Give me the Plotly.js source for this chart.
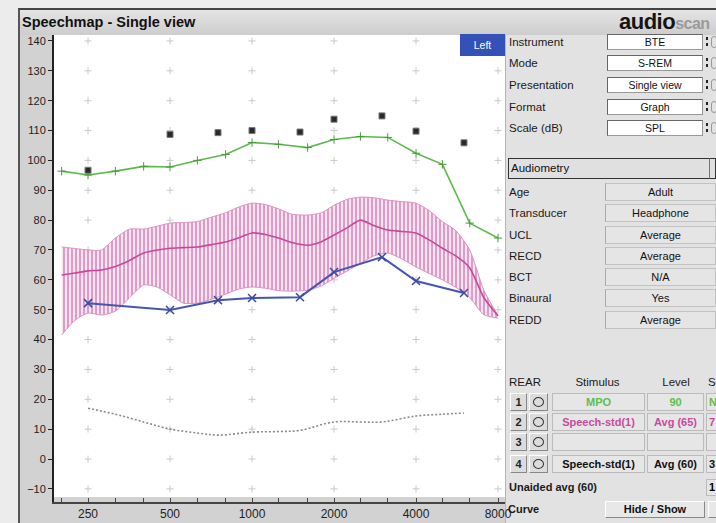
<!DOCTYPE html>
<html><head><meta charset="utf-8">
<script src="https://cdn.plot.ly/plotly-3.0.1.min.js"></script>
<style>
body{margin:0;width:716px;height:523px;overflow:hidden;background:#ececec;position:relative;font-family:'Liberation Sans',Arial,sans-serif;}
.a{position:absolute;box-sizing:border-box;white-space:nowrap;}
#plot{position:absolute;left:0;top:0;width:716px;height:523px;z-index:1;}
.ov{z-index:2;}
</style></head><body>
<div class="a" style="left:18px;top:8px;width:698px;height:515px;background:#d2d2d2;border-top:2px solid #444;border-left:2px solid #555;"></div>
<div class="a" style="left:20px;top:10px;width:696px;height:25px;background:linear-gradient(#e4e4e4,#cdcdcd);"></div>
<div class="a" style="left:505px;top:35px;width:211px;height:488px;background:#e2e2e2;border-left:1px solid #b5b5b5;"></div>
<div id="plot"></div>
<div id="panel"></div>
<script>
// ---- data ----
const bandFreq  = [200,224,250,280,315,355,400,450,500,560,630,710,800,900,1000,1120,1250,1400,1600,1800,2000,2240,2500,2800,3150,3550,4000,4500,5000,5600,6300,7100,8000];
const bandUpper = [71,70.5,70,70,74,77,77,78,79,79.2,79.5,81,82.5,84.5,85.7,85.2,83.8,82,81.7,82.5,85,87,87.7,87.5,86.7,86.2,85.7,83,79.5,76.5,70,56.5,48];
const bandMean  = [61.6,62.3,63,63.3,64.5,66.5,69,70,70.6,70.8,71,71.8,72.7,74.2,75.7,75.2,74,72.5,71.6,72.8,75,77.5,80,78.2,76.7,76.2,75.7,73.2,70.6,68,64,54,48];
const bandLower = [41.5,46.5,48.9,48.2,49.5,54,58.3,57.5,55,52.2,52.2,53.5,55.2,57,57.6,57.2,56.4,56.2,56.5,58,60.5,63,65.5,68,69,67,64.3,62,60,57.5,54,48.3,47.2];

const mpoFreq = [200,250,315,400,500,630,800,1000,1250,1600,2000,2500,3150,4000,5000,6300,8000];
const mpoVals = [96.4,95.1,96.4,98,97.8,100,102,106,105.4,104.3,107,108,107.7,102.4,98.7,79,74];

const uclFreq = [250,500,750,1000,1500,2000,3000,4000,6000];
const uclVals = [96.7,108.7,109.3,110,109.5,113.8,114.9,109.8,105.9];

const aidedFreq = [250,500,750,1000,1500,2000,3000,4000,6000];
const aidedVals = [52.2,49.9,53.2,53.9,54.2,62.6,67.6,59.6,55.6];

const threshFreq = [250,315,400,500,630,750,1000,1250,1500,2000,2500,3000,4000,5000,6000];
const threshVals = [17,15,12.4,10,8.7,8,9,9.2,9.6,12.4,12.4,12.4,14.4,15,15.4];

const xTickVals = [200,250,315,400,500,630,800,1000,1250,1600,2000,2500,3150,4000,5000,6300,8000];
const xTickText = ['','250','','','500','','','1000','','','2000','','','4000','','','8000'];
const gridFreqs = [250,500,1000,2000,4000,8000];
const yTickVals = [-10,0,10,20,30,40,50,60,70,80,90,100,110,120,130,140];

// grid "+" marks
const gx=[], gy=[];
gridFreqs.forEach(f=>yTickVals.forEach(v=>{gx.push(f);gy.push(v);}));

const traces = [
  {x:gx,y:gy,mode:'markers',marker:{symbol:'cross-thin-open',size:5,color:'#c9c9c9',line:{width:1,color:'#c9c9c9'}},hoverinfo:'skip'},
  {x:bandFreq,y:bandLower,mode:'lines',line:{color:'#dd90c4',width:1,shape:'spline',smoothing:0.6}},
  {x:bandFreq,y:bandUpper,mode:'lines',line:{color:'#dd90c4',width:1,shape:'spline',smoothing:0.6},fill:'tonexty',
   fillcolor:'#f7e3ef',fillpattern:{shape:'|',size:4,solidity:0.3,fgcolor:'#d068ac',bgcolor:'#f8e6f1'}},
  {x:bandFreq,y:bandMean,mode:'lines',line:{color:'#c8479a',width:1.6,shape:'spline',smoothing:0.6}},
  {x:threshFreq,y:threshVals,mode:'lines',line:{color:'#8a8a8a',width:1.6,dash:'2px,2px',shape:'spline'}},
  {x:mpoFreq,y:mpoVals,mode:'lines+markers',line:{color:'#5cba4c',width:1.6},marker:{symbol:'cross-thin-open',size:6,color:'#4a9a3c',line:{width:1,color:'#4a9a3c'}}},
  {x:aidedFreq,y:aidedVals,mode:'lines+markers',line:{color:'#4456b2',width:2},marker:{symbol:'x-thin-open',size:8,color:'#3a4aa8',line:{width:1.5,color:'#3a4aa8'}}},
  {x:uclFreq,y:uclVals,mode:'markers',marker:{symbol:'square',size:6,color:'#2a2a2a',line:{width:1,color:'#777'}}}
];

const layout = {
  width:716,height:523,
  margin:{l:54,r:211,t:35,b:21},
  paper_bgcolor:'rgba(0,0,0,0)',plot_bgcolor:'rgba(0,0,0,0)',
  showlegend:false,
  font:{family:'Liberation Sans, Arial, sans-serif',color:'#222'},
  shapes:[{type:'rect',xref:'paper',yref:'y',x0:0,x1:1,y0:-12.7,y1:142,fillcolor:'#ffffff',line:{width:0},layer:'below'}],
  xaxis:{type:'log',range:[Math.log10(187.5),Math.log10(8486)],tickvals:xTickVals,ticktext:xTickText,
    ticks:'inside',ticklen:4,tickcolor:'#444',tickwidth:1,showgrid:false,zeroline:false,
    showline:true,linecolor:'#444',linewidth:2,tickfont:{size:12,color:'#222'}},
  yaxis:{range:[-14.4,142],tickvals:yTickVals,ticks:'outside',ticklen:4,tickcolor:'#222',tickwidth:1,
    showgrid:false,zeroline:false,showline:true,linecolor:'#222',linewidth:2,tickfont:{size:11,color:'#222'}}
};
Plotly.newPlot('plot',traces,layout,{displayModeBar:false,staticPlot:true});

// ---- panel (UI text) ----
const panel = document.getElementById('panel');
function el(x,y,w,h,style,text){
  const d=document.createElement('div');d.className='a ov';
  d.style.cssText=`left:${x}px;top:${y}px;width:${w}px;height:${h}px;`+(style||'');
  if(text!==undefined){d.textContent=text;}
  panel.appendChild(d);return d;
}
function label(x,yc,text,style){el(x,yc-8,200,16,'line-height:16px;font-size:11.5px;color:#1a1a1a;'+(style||''),text);}

el(22,12,300,20,'font-size:14.5px;font-weight:bold;color:#111;line-height:20px;','Speechmap - Single view');
el(619,9,97,26,'font-size:22px;font-weight:bold;color:#151515;line-height:26px;letter-spacing:-0.5px;overflow:hidden;','').innerHTML='audio<span style="color:#9a9a9a;font-size:16px;">scan</span>';
el(460,34,45,22,'background:#3451b8;color:#fff;font-size:10.5px;text-align:center;line-height:22px;','Left');

const setupLabels=['Instrument','Mode','Presentation','Format','Scale (dB)'];
const setupVals=['BTE','S-REM','Single view','Graph','SPL'];
const setupY=[42,63,85,107,128];
setupLabels.forEach((t,i)=>{
  label(509,setupY[i],t);
  el(607,setupY[i]-8,96,16,'background:#fff;border:1px solid #999;border-top-color:#666;border-left-color:#666;font-size:10.5px;text-align:center;line-height:14px;color:#111;',setupVals[i]);
  el(706,setupY[i]-5,2,3,'background:#222;');el(706,setupY[i]+1,2,3,'background:#222;');
  el(711,setupY[i]-6,6,12,'border:1px solid #999;border-radius:3px;');
});

el(508,158,203,21,'border:1.5px solid #333;background:#e0e0e0;font-size:11.5px;line-height:18px;padding-left:2px;color:#111;','Audiometry');
el(709,158,7,21,'border:1.5px solid #333;border-left:1px solid #777;background:#e0e0e0;');

const audLabels=['Age','Transducer','UCL','RECD','BCT','Binaural','REDD'];
const audVals=['Adult','Headphone','Average','Average','N/A','Yes','Average'];
const audY=[192,213,235,256,277,298,320];
audLabels.forEach((t,i)=>{
  label(509,audY[i],t);
  el(605,audY[i]-9,111,18,'background:#e5e5e5;border:1px solid #c2c2c2;border-left-color:#aaa;font-size:11px;text-align:center;line-height:16px;color:#111;',audVals[i]);
});

label(509,382,'REAR');
el(550,374,95,16,'font-size:11.5px;text-align:center;line-height:16px;color:#1a1a1a;','Stimulus');
el(648,374,56,16,'font-size:11.5px;text-align:center;line-height:16px;color:#1a1a1a;','Level');
el(708,374,20,16,'font-size:11.5px;line-height:16px;color:#1a1a1a;','S');

const rearNums=['1','2','3','4'];
const rearStim=['MPO','Speech-std(1)','','Speech-std(1)'];
const rearLevel=['90','Avg (65)','','Avg (60)'];
const rearExtra=['N','7','','3'];
const rearColor=['#5cc04c','#c84aa0','#111','#111'];
const rearY=[402,422,442,464];
rearNums.forEach((n,i)=>{
  const y=rearY[i], c=rearColor[i];
  el(510,y-9,17,18,'background:#dcdcdc;border:1px solid #fff;border-right-color:#888;border-bottom-color:#888;font-size:11px;text-align:center;line-height:16px;font-weight:bold;color:#222;',n);
  el(529,y-9,19,18,'background:#dcdcdc;border:1px solid #fff;border-right-color:#888;border-bottom-color:#888;');
  el(533,y-5,11,10,'border:1.5px solid #333;border-radius:50%;');
  el(552,y-9,93,18,`background:#e6e6e6;border:1px solid #bbb;font-size:11px;text-align:center;line-height:16px;font-weight:bold;color:${c};`,rearStim[i]);
  el(647,y-9,57,18,`background:#e6e6e6;border:1px solid #bbb;font-size:11px;text-align:center;line-height:16px;font-weight:bold;color:${c};`,rearLevel[i]);
  el(706,y-9,14,18,`background:#e6e6e6;border:1px solid #bbb;font-size:11px;line-height:16px;font-weight:bold;padding-left:2px;color:${c};`,rearExtra[i]);
});
label(509,487,'Unaided avg (60)','font-weight:bold;font-size:11px;');
el(706,479,14,17,'background:#e6e6e6;border:1px solid #bbb;font-size:11px;line-height:15px;padding-left:2px;font-weight:bold;','1');
label(508,509,'Curve','font-weight:bold;font-size:11px;');
el(605,501,100,17,'background:#e8e8e8;border:1px solid #fff;border-right-color:#888;border-bottom-color:#888;font-size:11px;text-align:center;line-height:15px;font-weight:bold;color:#111;','Hide / Show');
el(708,501,12,17,'background:#e8e8e8;border:1px solid #fff;border-bottom-color:#888;');
</script>
</body></html>
